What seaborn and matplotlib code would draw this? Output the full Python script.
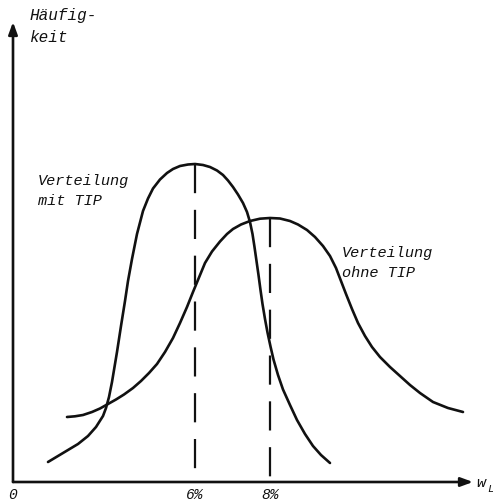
import matplotlib
matplotlib.use("Agg")
import matplotlib.pyplot as plt
import seaborn as sns
import numpy as np
import pandas as pd

# ---- data (schematic units; origin at the axes corner) ----
x_mit = [35, 45, 55, 65, 75, 83, 90, 93, 96, 99, 104, 108, 112, 115, 119, 124, 130, 135, 140, 147,
         154, 160, 167, 175, 182, 190, 197, 204, 210, 215, 220, 225, 230, 234, 237, 239.5, 241.5, 243.5,
         245.5, 247.5, 249.5, 252, 254.5, 257.5, 260.5, 265, 270, 277, 284, 292, 300, 308, 317]
y_mit = [20, 26, 32, 38, 46, 55, 66, 74, 85, 100, 130, 156, 181, 201, 223, 248, 271, 283.5, 293.5, 302.5,
         309, 313, 316, 317.5, 318, 317, 315, 311.5, 307, 301.5, 295, 287.5, 279, 270, 260, 248, 235, 221,
         207, 192, 178, 163, 149.5, 135.5, 122.5, 107, 92.5, 77, 62, 48, 36, 27, 19]
x_ohne = [54, 62, 70, 79, 87, 95, 103, 111, 120, 128, 136, 144, 152, 160, 167, 174, 180, 186, 192, 199,
          207, 214, 220, 228, 237, 247, 257, 267, 277, 285, 294, 302, 310, 317, 323, 328, 333, 339, 345,
          352, 359, 367, 377, 387, 397, 407, 420, 435, 450]
y_ohne = [65, 65.7, 67, 70, 73.5, 78, 82.5, 87.5, 94, 101, 109, 118, 130, 144, 159, 175, 190, 204.5, 219,
          230.5, 240.5, 248, 253, 257.5, 261, 263.3, 264, 263.5, 261, 257.5, 252, 245, 236, 226, 214, 201, 188,
          173, 159, 146, 135, 125, 115, 106, 97, 89, 80, 74, 70]
tick_pos = [0, 182, 257]
tick_labels = ["0", "6%", "8%"]
label_mit = ["Verteilung", "mit TIP"]
label_ohne = ["Verteilung", "ohne TIP"]
y_label = ["Häufig-", "keit"]
x_label = ("w", "L")

sns.set_theme(style="white")
plt.rcParams["font.family"] = ["Liberation Mono", "DejaVu Sans Mono"]
plt.rcParams["lines.scale_dashes"] = False

W, H = 493, 504
fig = plt.figure(figsize=(W / 100, H / 100), dpi=100)
fig.patch.set_facecolor("white")
ox, oy, ex, ey = 13, 482, 473, 22
ax = fig.add_axes([ox / W, 1 - oy / H, (ex - ox) / W, (oy - ey) / H])
ax.set_xlim(0, ex - ox)
ax.set_ylim(0, oy - ey)
for s in ax.spines.values():
    s.set_visible(False)
ax.set_facecolor("none")

ink = "#111111"
df_mit = pd.DataFrame({"x": x_mit, "y": y_mit})
df_ohne = pd.DataFrame({"x": x_ohne, "y": y_ohne})
for df in (df_mit, df_ohne):
    sns.lineplot(data=df, x="x", y="y", sort=False, estimator=None, color=ink, lw=1.9,
                 solid_joinstyle="round", solid_capstyle="round", ax=ax)

# dashed verticals at the peaks
for xs, ys in ((x_mit, y_mit), (x_ohne, y_ohne)):
    i = int(np.argmax(ys))
    ax.plot([xs[i], xs[i]], [ys[i], 3], color=ink, lw=1.6, dashes=(21, 12))

# axes arrows
arrow = dict(arrowstyle="-|>,head_length=0.6,head_width=0.22", color=ink, lw=1.9, shrinkA=0, shrinkB=0)
ax.annotate("", xy=(0, oy - ey), xytext=(0, 0), arrowprops=arrow, annotation_clip=False)
ax.annotate("", xy=(ex - ox, 0), xytext=(0, 0), arrowprops=arrow, annotation_clip=False)

ax.set_xticks(tick_pos)
ax.set_xticklabels(tick_labels, fontstyle="italic", fontsize=10.5, color=ink)
ax.tick_params(axis="x", length=0, pad=4)
ax.set_yticks([])
ax.set_xlabel("")
ax.set_ylabel("")

def ftext(px, py, s, size=11, **kw):
    fig.text(px / W, 1 - py / H, s, fontstyle="italic", fontsize=size, color=ink,
             va="baseline", ha="left", **kw)

ftext(30, 20, y_label[0], size=11.5)
ftext(30, 42, y_label[1], size=11.5)
ftext(38, 185, label_mit[0])
ftext(38, 205, label_mit[1])
ftext(342, 257, label_ohne[0])
ftext(342, 277, label_ohne[1])
ftext(476, 487, x_label[0])
ftext(487, 492, x_label[1], size=8)

fig.savefig("out.png", dpi=100, facecolor="white")
